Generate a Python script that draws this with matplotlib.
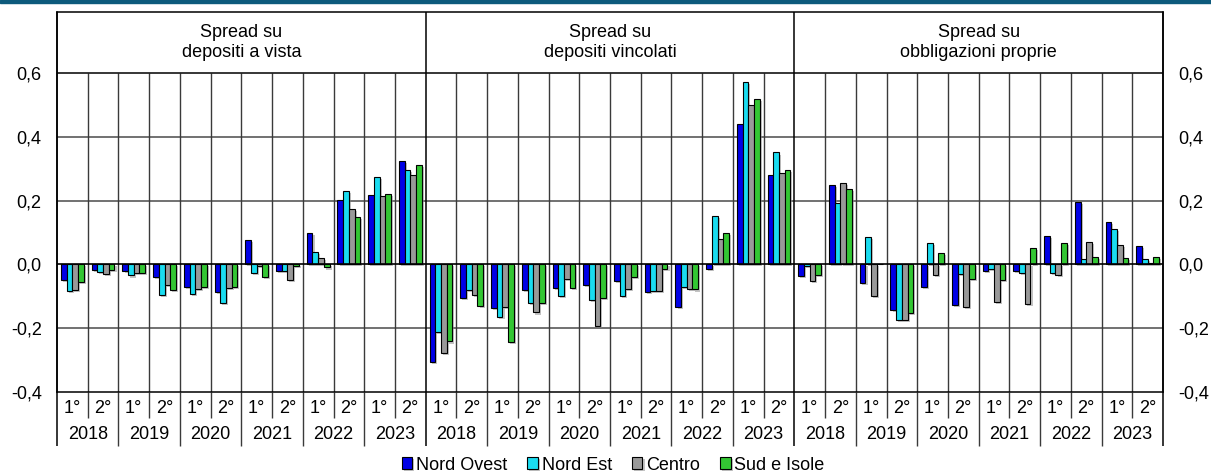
import numpy as np
import matplotlib.pyplot as plt
import matplotlib.patheffects as pe
from matplotlib.patches import Rectangle

plt.rcParams['font.family'] = ['Liberation Sans', 'DejaVu Sans']
plt.rcParams['font.size'] = 13

# === dati ===
panel_titles = ['Spread su\ndepositi a vista',
                'Spread su\ndepositi vincolati',
                'Spread su\nobbligazioni proprie']
years = ['2018', '2019', '2020', '2021', '2022', '2023']
halves = ['1°', '2°']
series_names = ['Nord Ovest', 'Nord Est', 'Centro', 'Sud e Isole']
colors = ['#0000e6', '#1adcf0', '#999999', '#33c633']

# ogni riga = un pannello (12 semestri, 2018-2023)
nord_ovest = [
    -0.050, -0.019, -0.021, -0.041, -0.071, -0.086, 0.077, -0.021, 0.098, 0.203, 0.216, 0.325,
    -0.306, -0.106, -0.136, -0.081, -0.073, -0.066, -0.053, -0.088, -0.134, -0.015, 0.440, 0.281,
    -0.036, 0.248, -0.059, -0.144, -0.072, -0.127, -0.022, -0.020, 0.088, 0.196, 0.134, 0.057,
]
nord_est = [
    -0.084, -0.024, -0.035, -0.096, -0.092, -0.122, -0.027, -0.021, 0.038, 0.231, 0.275, 0.297,
    -0.211, -0.080, -0.165, -0.121, -0.099, -0.111, -0.099, -0.083, -0.070, 0.151, 0.573, 0.351,
    -0.004, 0.191, 0.085, -0.175, 0.068, -0.031, -0.016, -0.026, -0.028, 0.017, 0.110, 0.016,
]
centro = [
    -0.081, -0.030, -0.028, -0.065, -0.076, -0.074, -0.006, -0.049, 0.019, 0.175, 0.215, 0.279,
    -0.278, -0.097, -0.133, -0.151, -0.046, -0.192, -0.078, -0.083, -0.076, 0.080, 0.500, 0.288,
    -0.052, 0.255, -0.098, -0.176, -0.033, -0.135, -0.118, -0.125, -0.034, 0.069, 0.060, 0.003,
]
sud_isole = [
    -0.055, -0.018, -0.026, -0.080, -0.071, -0.071, -0.039, -0.006, -0.010, 0.148, 0.222, 0.313,
    -0.242, -0.132, -0.245, -0.122, -0.075, -0.107, -0.039, -0.015, -0.079, 0.097, 0.518, 0.296,
    -0.034, 0.236, 0.000, -0.153, 0.035, -0.047, -0.050, 0.051, 0.066, 0.022, 0.019, 0.024,
]
series = [nord_ovest, nord_est, centro, sud_isole]

# === figura ===
fig = plt.figure(figsize=(12.11, 4.73), dpi=100)
ax = fig.add_axes([57 / 1211, 1 - 391.8 / 473, 1106 / 1211, 379.3 / 473])

n = len(nord_ovest)
ytop = 0.79
ax.set_xlim(0, n)
ax.set_ylim(-0.4, ytop)

# barre
x = np.arange(n) + 0.5
w = 0.185
shadow = [pe.SimplePatchShadow(offset=(1.5, -1.5), shadow_rgbFace='#888888', alpha=0.5), pe.Normal()]
for i, (vals, col, name) in enumerate(zip(series, colors, series_names)):
    ax.bar(x + (i - 1.5) * w, vals, w, color=col, edgecolor='black', linewidth=0.8,
           label=name, zorder=2, path_effects=shadow)

# griglia orizzontale
for yv in [-0.2, 0.2, 0.4]:
    ax.axhline(yv, color='#4a4a4a', lw=1.1, zorder=1)
ax.axhline(0.0, color='black', lw=1.2, zorder=3)
ax.axhline(0.6, color='black', lw=1.1, zorder=3)

# griglia verticale + separatori sotto l'asse
lab_half = -0.451
lab_year = -0.5355
bot_half = -0.481
bot_year = -0.569
for k in range(0, n + 1):
    if k % 12 == 0:
        ax.vlines(k, bot_year, ytop, color='black', lw=1.1, clip_on=False, zorder=3)
    else:
        ax.vlines(k, -0.4, 0.6, color='#3a3a3a', lw=1.0, zorder=1)
        bot = bot_half if k % 2 == 1 else bot_year
        ax.vlines(k, bot, -0.4, color='#3a3a3a', lw=1.0, clip_on=False)

# etichette semestri e anni
for p in range(3):
    for j, yr in enumerate(years):
        base = p * 12 + j * 2
        for h, hl in enumerate(halves):
            ax.text(base + h + 0.5, lab_half, hl, ha='center', va='center', clip_on=False)
        ax.text(base + 1, lab_year, yr, ha='center', va='center', clip_on=False)
    ax.text(p * 12 + 6, 0.697, panel_titles[p], ha='center', va='center', linespacing=1.25)

# assi
ax.set_xticks([])
ticks = [-0.4, -0.2, 0.0, 0.2, 0.4, 0.6]
ax.set_yticks(ticks)
ax.set_yticklabels([f'{t:.1f}'.replace('.', ',') for t in ticks])
ax.tick_params(axis='y', length=0, pad=11, labelleft=True, labelright=True)
ax.tick_params(axis='y', which='both', right=False)
for s in ax.spines.values():
    s.set_color('black')
    s.set_linewidth(1.1)

# legenda
fig.legend(loc='center', bbox_to_anchor=(613 / 1211, 8 / 473), ncol=4, frameon=False,
           handlelength=0.6, handleheight=0.6, handletextpad=0.2, columnspacing=1.1,
           borderaxespad=0, borderpad=0)

# banda superiore
fig.patches.append(Rectangle((0, 1 - 3 / 473), 1, 3 / 473, transform=fig.transFigure,
                             color='#0d5a7c', zorder=5))

fig.savefig('out.png', dpi=100)
